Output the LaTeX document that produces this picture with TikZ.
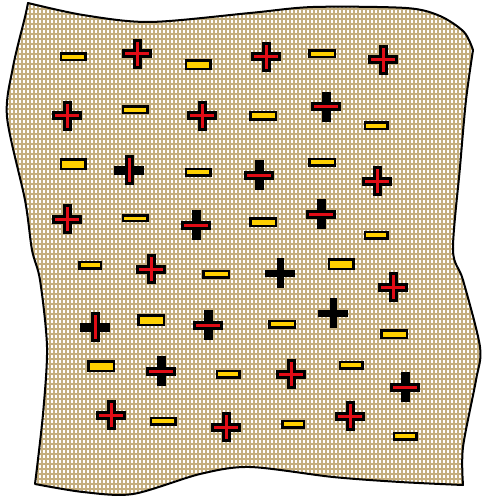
\documentclass[tikz,border=0pt]{standalone}
\usepackage{tikz}
\definecolor{cloth}{RGB}{196,174,126}
\definecolor{poscol}{RGB}{226,12,22}
\definecolor{negcol}{RGB}{255,208,0}
\tikzset{
  sheet/.style={draw=black, line width=2pt, line join=round},
  weave/.style={white, line width=2.4pt, dash pattern=on 3.2pt off 1.8pt},
  pbar/.style={black, line width=9pt},
  pcore/.style={poscol, line width=3pt},
  kbar/.style={black, line width=7pt},
  nbox/.style={draw=black, fill=negcol, line width=2.5pt},
}
% outline of the charged sheet (pixel coordinates, y downwards)
\def\clothedge{plot[smooth] coordinates {(28,3) (83,15) (150,22) (250,13) (313,7) (406,8) (440,16) (464,32) (473,50)}
  -- plot[smooth] coordinates {(473,50) (466,100) (460,167) (453,250) (463,280) (480,347) (476,380) (463,447) (463,485)}
  -- plot[smooth] coordinates {(463,485) (400,482) (333,477) (250,467) (200,474) (133,494) (83,492) (35,484)}
  -- plot[smooth] coordinates {(35,484) (43,414) (47,347) (40,280) (32,250) (25,200) (7,117) (13,67) (25,17) (28,3)} -- cycle}

\begin{document}
\begin{tikzpicture}[x=1pt, y=-1pt]
\useasboundingbox (0,0) rectangle (483,497);

% cloth with woven texture
\fill[cloth] \clothedge;
\begin{scope}
  \clip \clothedge;
  \foreach \c in {0,4,...,484} \draw[weave] (\c,0) -- (\c,497);
\end{scope}
\draw[sheet] \clothedge;

% negative charges
\foreach \x/\y/\w/\h in {73/57/27/9, 198/65/27/11, 322/54/28/9,
    135/110/27/9, 263/116/28/10, 376/126/25/9,
    73/164/27/12, 198/172/27/9, 322/162/28/9,
    135/218/27/8, 263/222/28/10, 376/235/25/9,
    90/265/24/9, 216/274/28/9, 341/264/27/12,
    151/320/28/12, 282/324/28/9, 394/334/28/10,
    101/366/28/12, 228/374/25/9, 351/365/25/9,
    163/421/27/9, 293/424/24/9, 405/436/25/9}
  \draw[nbox] (\x-\w/2+1.25,\y-\h/2+1.25) rectangle (\x+\w/2-1.25,\y+\h/2-1.25);

% positive charges, both bars red
\foreach \x/\y in {137/54, 266/57, 383/60, 67/116, 202/116, 377/181, 67/219,
    151/269, 393/287, 291/374, 111/415, 226/427, 350/416} {
  \draw[pbar] (\x-15,\y) -- (\x+15,\y) (\x,\y-15) -- (\x,\y+15);
  \draw[pcore] (\x-12,\y) -- (\x+12,\y) (\x,\y-12) -- (\x,\y+12);
}
% only the horizontal bar red
\foreach \x/\y in {196/225, 326/107, 259/175, 321/214, 208/325, 161/371, 405/387} {
  \draw[pbar] (\x-15,\y) -- (\x+15,\y) (\x,\y-15) -- (\x,\y+15);
  \draw[pcore] (\x-12,\y) -- (\x+12,\y);
}
% only the vertical bar red
\foreach \x/\y in {129/170, 95/327} {
  \draw[pbar] (\x-15,\y) -- (\x+15,\y) (\x,\y-15) -- (\x,\y+15);
  \draw[pcore] (\x,\y-12) -- (\x,\y+12);
}
% plain black
\foreach \x/\y in {280/273, 333/313}
  \draw[kbar] (\x-15,\y) -- (\x+15,\y) (\x,\y-15) -- (\x,\y+15);
\end{tikzpicture}
\end{document}
